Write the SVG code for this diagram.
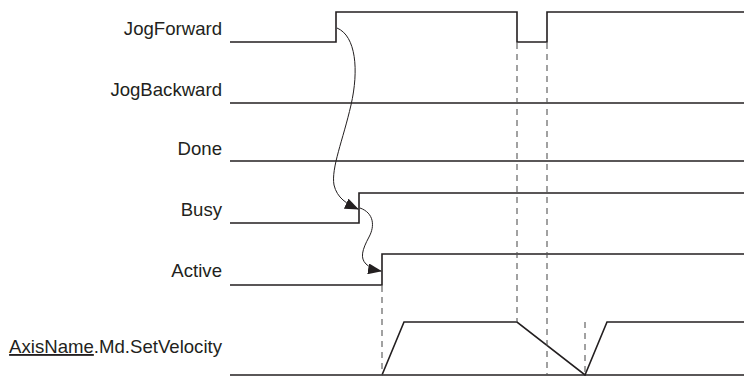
<svg xmlns="http://www.w3.org/2000/svg" width="744" height="376" viewBox="0 0 744 376">
<style>
.lbl{font-family:"Liberation Sans",Arial,sans-serif;font-size:18.6px;fill:#231f20;text-anchor:end}
.sig{fill:none;stroke:#231f20;stroke-width:1.6;stroke-linejoin:miter}
.dash{fill:none;stroke:#555;stroke-width:1.1;stroke-dasharray:6,5}
.cause{fill:none;stroke:#231f20;stroke-width:1;marker-end:url(#arr)}
</style>
<defs>
<marker id="arr" viewBox="0 0 14 11" refX="13" refY="5.5" markerWidth="14" markerHeight="11" markerUnits="userSpaceOnUse" orient="auto">
<path d="M0,0 L14,5.5 L0,11 Z" fill="#231f20"/>
</marker>
</defs>
<rect width="744" height="376" fill="#fff"/>
<g id="JogForward">
<text class="lbl" x="222" y="35">JogForward</text>
<polyline class="sig" points="230,42 336,42 336,12 517,12 517,42 547,42 547,12 744,12"/>
</g>
<g id="JogBackward">
<text class="lbl" x="222" y="96">JogBackward</text>
<polyline class="sig" points="230,103 744,103"/>
</g>
<g id="Done">
<text class="lbl" x="222" y="155">Done</text>
<polyline class="sig" points="230,161 744,161"/>
</g>
<g id="Busy">
<text class="lbl" x="222" y="216">Busy</text>
<polyline class="sig" points="230,223 359,223 359,193 744,193"/>
</g>
<g id="Active">
<text class="lbl" x="222" y="277">Active</text>
<polyline class="sig" points="230,285 382,285 382,254 744,254"/>
</g>
<g id="SetVelocity">
<text class="lbl" x="222" y="353"><tspan text-decoration="underline">AxisName</tspan>.Md.SetVelocity</text>
<polyline class="sig" points="230,375 744,375"/>
<polyline class="sig" points="382,375 404,322 517,322 585,375 607,322 744,322"/>
</g>
<g id="connectors">
<line class="dash" x1="382" y1="286" x2="382" y2="375"/>
<line class="dash" x1="517" y1="43" x2="517" y2="322"/>
<line class="dash" x1="547" y1="43" x2="547" y2="375"/>
<line class="dash" x1="585" y1="322" x2="585" y2="375"/>
<path class="cause" d="M337,28 C356,36 359,70 351,105 C343,140 331,168 334,185 C337,198 347,204 358,209"/>
<path class="cause" d="M360,208 C374,213 375,226 369,237 C362,250 360,258 366,264 C370,268 375,270 381,271"/>
</g>
</svg>
